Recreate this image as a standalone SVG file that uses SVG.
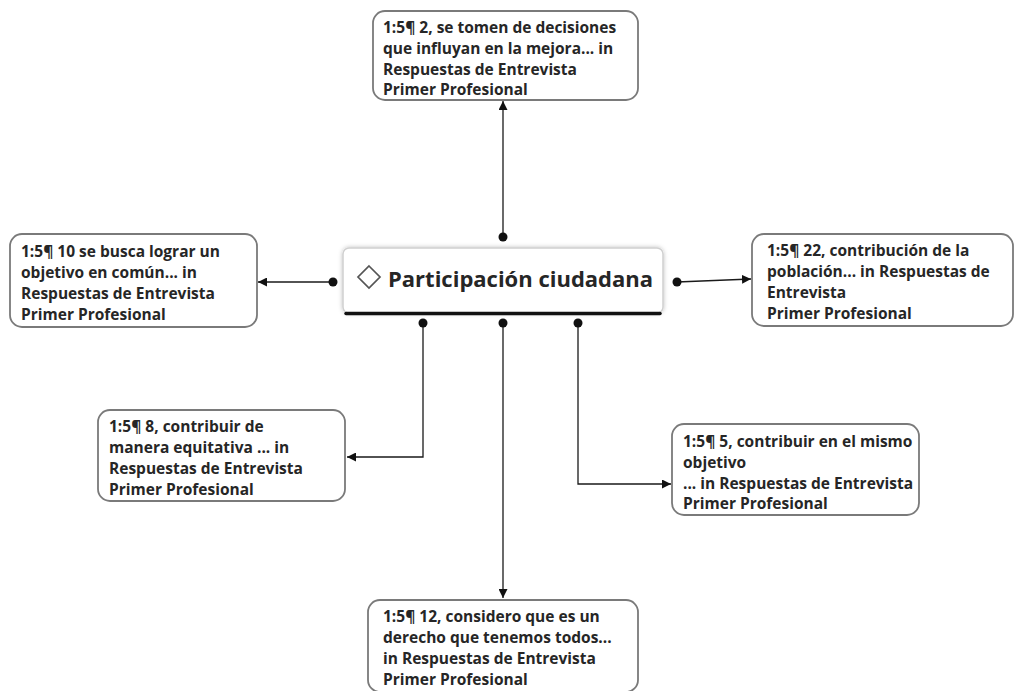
<svg xmlns="http://www.w3.org/2000/svg" width="1017" height="691" viewBox="0 0 1017 691">
<defs>
<style>
.box{fill:#fff;stroke:#7a7a7a;stroke-width:1.8}
.t{font-family:"Open Sans","Noto Sans","Liberation Sans",sans-serif;font-weight:bold;font-size:15.5px;fill:#262626}
.c{fill:none;stroke:#1a1a1a;stroke-width:1.3}
.dot{fill:#111}
</style>
<marker id="ar" viewBox="0 0 10 10" refX="10" refY="5" markerWidth="9" markerHeight="9" markerUnits="userSpaceOnUse" orient="auto">
<path d="M0,0 L10,5 L0,10 z" fill="#111"/>
</marker>
<filter id="sh" x="-10%" y="-20%" width="120%" height="150%">
<feDropShadow dx="0" dy="0" stdDeviation="2" flood-color="#000" flood-opacity="0.25"/>
</filter>
</defs>
<g id="connectors">
<path class="c" d="M503,237 V101" marker-end="url(#ar)"/>
<path class="c" d="M333,282 H258" marker-end="url(#ar)"/>
<path class="c" d="M677,282 L751,279" marker-end="url(#ar)"/>
<path class="c" d="M423,323 V457 H347" marker-end="url(#ar)"/>
<path class="c" d="M503,323 V598" marker-end="url(#ar)"/>
<path class="c" d="M578,323 V484 H671" marker-end="url(#ar)"/>
<circle class="dot" cx="503" cy="237" r="4.5"/>
<circle class="dot" cx="333" cy="282" r="4.5"/>
<circle class="dot" cx="677" cy="282" r="4.5"/>
<circle class="dot" cx="423" cy="323" r="4.5"/>
<circle class="dot" cx="503" cy="323" r="4.5"/>
<circle class="dot" cx="578" cy="323" r="4.5"/>
</g>
<g id="center">
<rect x="343" y="248" width="320" height="65" rx="6" fill="#fff" stroke="#d0d0d0" stroke-width="1.5" filter="url(#sh)"/>
<path d="M346,313.5 H660" stroke="#111" stroke-width="3.5" stroke-linecap="round"/>
<path d="M369,266 L380,277 L369,288 L358,277 Z" fill="none" stroke="#555" stroke-width="1.7"/>
<text x="388" y="287" font-family="'Open Sans','Noto Sans','Liberation Sans',sans-serif" font-weight="bold" font-size="22" fill="#262626">Participación ciudadana</text>
</g>
<g id="n2">
<rect class="box" x="373" y="11" width="265" height="89" rx="12"/>
<text class="t" x="383" y="33">1:5¶ 2, se tomen de decisiones</text>
<text class="t" x="383" y="54">que influyan en la mejora... in</text>
<text class="t" x="383" y="75">Respuestas de Entrevista</text>
<text class="t" x="383" y="95">Primer Profesional</text>
</g>
<g id="n10">
<rect class="box" x="10" y="234" width="247" height="93" rx="12"/>
<text class="t" x="21" y="257">1:5¶ 10 se busca lograr un</text>
<text class="t" x="21" y="278">objetivo en común... in</text>
<text class="t" x="21" y="299">Respuestas de Entrevista</text>
<text class="t" x="21" y="320">Primer Profesional</text>
</g>
<g id="n22">
<rect class="box" x="752" y="234" width="261" height="92" rx="12"/>
<text class="t" x="767" y="256">1:5¶ 22, contribución de la</text>
<text class="t" x="767" y="277">población... in Respuestas de</text>
<text class="t" x="767" y="298">Entrevista</text>
<text class="t" x="767" y="319">Primer Profesional</text>
</g>
<g id="n8">
<rect class="box" x="98" y="410" width="247" height="91" rx="12"/>
<text class="t" x="109" y="432">1:5¶ 8, contribuir de</text>
<text class="t" x="109" y="453">manera equitativa ... in</text>
<text class="t" x="109" y="474">Respuestas de Entrevista</text>
<text class="t" x="109" y="495">Primer Profesional</text>
</g>
<g id="n5">
<rect class="box" x="672" y="424" width="247" height="91" rx="12"/>
<text class="t" x="683" y="447">1:5¶ 5, contribuir en el mismo</text>
<text class="t" x="683" y="468">objetivo</text>
<text class="t" x="683" y="489">... in Respuestas de Entrevista</text>
<text class="t" x="683" y="509">Primer Profesional</text>
</g>
<g id="n12">
<rect class="box" x="368" y="600" width="270" height="92" rx="12"/>
<text class="t" x="383" y="622">1:5¶ 12, considero que es un</text>
<text class="t" x="383" y="643">derecho que tenemos todos...</text>
<text class="t" x="383" y="664">in Respuestas de Entrevista</text>
<text class="t" x="383" y="685">Primer Profesional</text>
</g>
</svg>
